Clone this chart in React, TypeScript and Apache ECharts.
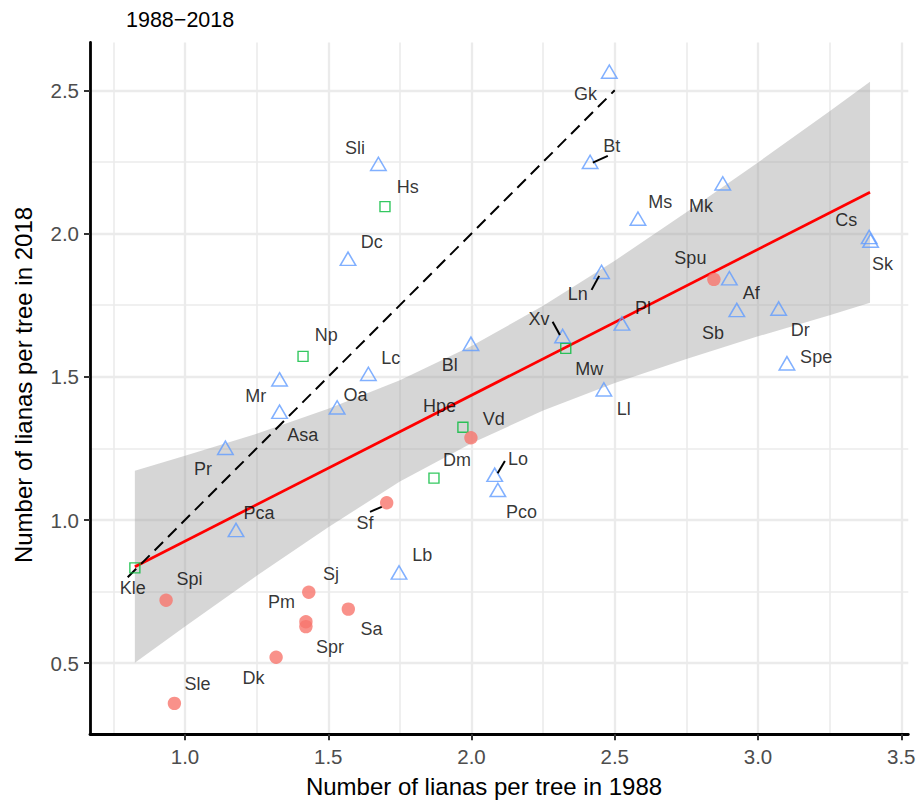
import React, { useEffect, useRef } from "react";
import * as echarts from "echarts";

// ---------------- data ----------------
const species = [
  "Dc", "Gk", "Sli", "Bt", "Ms", "Ln", "Mk", "Cs", "Sk", "Af", "Sb", "Dr", "Spe", "Pl", "Xv", "Ll", "Bl", "Lc", "Lo", "Pco", "Mr", "Asa", "Oa", "Pr", "Pca", "Lb",
  "Hs", "Mw", "Hpe", "Dm", "Np", "Kle",
  "Spu", "Vd", "Sf", "Spi", "Sj", "Pm", "Spr", "Sa", "Dk", "Sle",
];
const lianas1988 = [
  1.569, 2.481, 1.675, 2.414, 2.581, 2.454, 2.877, 3.388, 3.393, 2.9, 2.926, 3.072, 3.101, 2.525, 2.318, 2.462, 1.998, 1.64, 2.081, 2.092, 1.33, 1.33, 1.531, 1.141, 1.178, 1.747,
  1.698, 2.329, 1.97, 1.869, 1.412, 0.825,
  2.846, 1.998, 1.704, 0.934, 1.432, 1.422, 1.422, 1.57, 1.318, 0.963,
];
const lianas2018 = [
  1.912, 2.565, 2.243, 2.25, 2.052, 1.866, 2.175, 1.988, 1.975, 1.844, 1.733, 1.738, 1.547, 1.686, 1.642, 1.456, 1.615, 1.51, 1.158, 1.105, 1.491, 1.378, 1.393, 1.252, 0.965, 0.817,
  2.094, 1.599, 1.324, 1.146, 1.571, 0.833,
  1.84, 1.287, 1.06, 0.72, 0.748, 0.645, 0.628, 0.689, 0.521, 0.36,
];
const shapeGroup = [
  "triangle", "triangle", "triangle", "triangle", "triangle", "triangle", "triangle", "triangle", "triangle", "triangle", "triangle", "triangle", "triangle",
  "triangle", "triangle", "triangle", "triangle", "triangle", "triangle", "triangle", "triangle", "triangle", "triangle", "triangle", "triangle", "triangle",
  "square", "square", "square", "square", "square", "square",
  "circle", "circle", "circle", "circle", "circle", "circle", "circle", "circle", "circle", "circle",
];

// fitted regression line and its confidence band
const fitX = [0.825, 3.391];
const fitY = [0.837, 2.144];
const bandX = [0.825, 1.0, 1.25, 1.5, 1.75, 2.0, 2.25, 2.5, 2.75, 3.0, 3.25, 3.391];
const bandUpper = [1.172, 1.224, 1.301, 1.388, 1.488, 1.607, 1.748, 1.905, 2.074, 2.248, 2.427, 2.53];
const bandLower = [0.502, 0.628, 0.805, 0.975, 1.134, 1.268, 1.382, 1.478, 1.562, 1.641, 1.715, 1.758];

// 1:1 reference line
const oneToOneX = [0.8, 2.5];
const oneToOneY = [0.8, 2.5];

// axis ticks
const xMajorTicks = [1.0, 1.5, 2.0, 2.5, 3.0, 3.5];
const xMinorTicks = [0.75, 1.25, 1.75, 2.25, 2.75, 3.25];
const yMajorTicks = [0.5, 1.0, 1.5, 2.0, 2.5];
const yMinorTicks = [0.75, 1.25, 1.75, 2.25];

const titleText = "1988\u22122018";
const xTitle = "Number of lianas per tree in 1988";
const yTitle = "Number of lianas per tree in 2018";

// ---------------- layout (pixel offsets of labels, leader lines) ----------------
const labelOffsets: Record<string, [number, number]> = {
  Sli: [-23.3, -15.7], Hs: [22.8, -19.5], Dc: [23.7, -16.7], Np: [23.3, -21], Lc: [22.5, -15.7],
  Mr: [-23.9, 16.3], Oa: [18.3, -12.5], Asa: [23.3, 23.2], Pr: [-22.5, 21.5], Pca: [23, -17],
  Kle: [-2.2, 20.2], Spi: [23.5, -21], Sle: [23.2, -19.1], Dk: [-22.7, 21], Pm: [-24.3, -19.5],
  Spr: [24, 20], Sj: [22.3, -18.5], Sa: [23.2, 20.2], Sf: [-21.7, 19.8], Lb: [23.3, -17],
  Dm: [23, -18.6], Lo: [23.2, -16], Pco: [23.7, 22.2], Hpe: [-23.3, -21], Vd: [22.8, -19],
  Bl: [-21.3, 21.2], Xv: [-23.5, -17.3], Mw: [23.5, 20.5], Ll: [19.8, 19.5], Ln: [-23.9, 22.5],
  Pl: [21.2, -15], Gk: [-23.8, 22.8], Bt: [21.7, -15.7], Ms: [22.3, -16.5], Mk: [-21.7, 23],
  Spu: [-23.5, -21], Af: [22, 14.7], Sb: [-23.7, 23], Dr: [21.7, 21.6], Spe: [29.2, -6.5],
  Cs: [-22.8, -16.7], Sk: [12, 23.3],
};
const leaderOffsets: Record<string, [number, number, number, number]> = {
  Bt: [2.7, 0.7, 17.7, -6],
  Ln: [-2.4, 4, -10, 18],
  Xv: [-2.7, -1, -10, -14.3],
  Lo: [2.9, -1.4, 10.2, -13.7],
  Sf: [-5, 4, -16.7, 9],
};

const X_MIN = 0.6684;
const X_MAX = 3.5246;
const Y_MIN = 0.252;
const Y_MAX = 2.6667;
const FONT = '"Liberation Sans", Arial, Helvetica, sans-serif';

const shapeStyles: Record<string, any> = {
  triangle: {
    symbol: "triangle",
    symbolSize: [15.5, 13.3],
    itemStyle: { color: "rgba(0,0,0,0)", borderColor: "#619CFF", borderWidth: 1.5 },
  },
  square: {
    symbol: "rect",
    symbolSize: 10,
    itemStyle: { color: "rgba(0,0,0,0)", borderColor: "#00BA38", borderWidth: 1.4 },
  },
  circle: {
    symbol: "circle",
    symbolSize: 13.4,
    itemStyle: { color: "#F8766D", borderWidth: 0 },
  },
};

export default function App() {
  const ref = useRef<HTMLDivElement>(null);

  useEffect(() => {
    document.body.style.margin = "0";
    document.body.style.overflow = "hidden";
    const chart = echarts.init(ref.current as HTMLDivElement, undefined, { renderer: "svg" });

    const scatterSeries = ["triangle", "square", "circle"].map((g) => {
      const data: any[] = [];
      species.forEach((name, i) => {
        if (shapeGroup[i] !== g) return;
        data.push({
          name,
          value: [lianas1988[i], lianas2018[i]],
          label: { offset: labelOffsets[name] || [0, 0] },
        });
      });
      return {
        type: "scatter",
        name: g,
        xAxisIndex: 0,
        yAxisIndex: 0,
        symbol: shapeStyles[g].symbol,
        symbolSize: shapeStyles[g].symbolSize,
        itemStyle: shapeStyles[g].itemStyle,
        silent: true,
        z: 5,
        label: {
          show: true,
          position: "inside",
          formatter: (p: any) => p.name,
          color: "#000000",
          fontSize: 18,
          fontFamily: FONT,
          align: "center",
          verticalAlign: "middle",
          textBorderWidth: 0,
        },
        emphasis: { disabled: true },
        data,
      };
    });

    const leaderData = Object.keys(leaderOffsets).map((n) => {
      const i = species.indexOf(n);
      const o = leaderOffsets[n];
      return [lianas1988[i], lianas2018[i], o[0], o[1], o[2], o[3]];
    });

    const option: any = {
      animation: false,
      textStyle: { fontFamily: FONT },
      grid: {
        left: 90,
        right: 10.7,
        top: 42.5,
        bottom: 66.7,
        containLabel: false,
        outerBoundsMode: "none",
      },
      xAxis: [
        {
          type: "value",
          min: X_MIN,
          max: X_MAX,
          position: "bottom",
          axisLine: { show: true, onZero: false, lineStyle: { color: "#000", width: 2.8 } },
          axisTick: { show: true, customValues: xMajorTicks, length: 6, lineStyle: { color: "#333", width: 2 } },
          axisLabel: {
            show: true,
            customValues: xMajorTicks,
            formatter: (v: number) => v.toFixed(1),
            color: "#4D4D4D",
            fontSize: 20.5,
            margin: 12,
            fontFamily: FONT,
          },
          splitLine: { show: true, lineStyle: { color: "#EBEBEB", width: 2.3 } },
          minorTick: { show: false },
          minorSplitLine: { show: false },
        },
        {
          type: "value",
          min: X_MIN,
          max: X_MAX,
          position: "top",
          axisLine: { show: false },
          axisTick: { show: false, customValues: xMinorTicks },
          axisLabel: { show: false, customValues: xMinorTicks },
          splitLine: { show: true, lineStyle: { color: "#EBEBEB", width: 1.6 } },
        },
      ],
      yAxis: [
        {
          type: "value",
          min: Y_MIN,
          max: Y_MAX,
          position: "left",
          axisLine: { show: true, onZero: false, lineStyle: { color: "#000", width: 2.8 } },
          axisTick: { show: true, customValues: yMajorTicks, length: 6, lineStyle: { color: "#333", width: 2 } },
          axisLabel: {
            show: true,
            customValues: yMajorTicks,
            formatter: (v: number) => v.toFixed(1),
            color: "#4D4D4D",
            fontSize: 20.5,
            margin: 11,
            fontFamily: FONT,
          },
          splitLine: { show: true, lineStyle: { color: "#EBEBEB", width: 2.3 } },
          minorTick: { show: false },
          minorSplitLine: { show: false },
        },
        {
          type: "value",
          min: Y_MIN,
          max: Y_MAX,
          position: "right",
          axisLine: { show: false },
          axisTick: { show: false, customValues: yMinorTicks },
          axisLabel: { show: false, customValues: yMinorTicks },
          splitLine: { show: true, lineStyle: { color: "#EBEBEB", width: 1.6 } },
        },
      ],
      series: [
        {
          type: "custom",
          name: "band",
          xAxisIndex: 0,
          yAxisIndex: 0,
          silent: true,
          z: 2,
          data: [[bandX[0], bandLower[0]]],
          renderItem: (_params: any, api: any) => {
            const pts: number[][] = [];
            for (let i = 0; i < bandX.length; i++) pts.push(api.coord([bandX[i], bandUpper[i]]));
            for (let i = bandX.length - 1; i >= 0; i--) pts.push(api.coord([bandX[i], bandLower[i]]));
            return { type: "polygon", shape: { points: pts }, style: { fill: "rgba(153,153,153,0.4)" } };
          },
        },
        {
          type: "line",
          name: "fit",
          xAxisIndex: 0,
          yAxisIndex: 0,
          silent: true,
          z: 3,
          symbol: "none",
          lineStyle: { color: "#FF0000", width: 2.7 },
          data: fitX.map((x, i) => [x, fitY[i]]),
        },
        {
          type: "line",
          name: "1:1",
          xAxisIndex: 0,
          yAxisIndex: 0,
          silent: true,
          z: 3,
          symbol: "none",
          lineStyle: { color: "#000000", width: 2, type: [12, 7] },
          data: oneToOneX.map((x, i) => [x, oneToOneY[i]]),
        },
        ...scatterSeries,
        {
          type: "custom",
          name: "leaders",
          xAxisIndex: 0,
          yAxisIndex: 0,
          silent: true,
          z: 6,
          dimensions: ["x", "y", "dx1", "dy1", "dx2", "dy2"],
          encode: { x: 0, y: 1 },
          data: leaderData,
          renderItem: (_params: any, api: any) => {
            const p = api.coord([api.value(0), api.value(1)]);
            return {
              type: "line",
              shape: {
                x1: p[0] + api.value(2),
                y1: p[1] + api.value(3),
                x2: p[0] + api.value(4),
                y2: p[1] + api.value(5),
              },
              style: { stroke: "#000000", lineWidth: 2 },
            };
          },
        },
      ],
      graphic: [
        {
          type: "text",
          x: 126,
          y: 19.5,
          style: {
            text: titleText,
            fill: "#000000",
            fontSize: 21.5,
            fontFamily: FONT,
            align: "left",
            verticalAlign: "middle",
            textAlign: "left",
            textVerticalAlign: "middle",
          },
        },
        {
          type: "text",
          x: 484,
          y: 786,
          style: {
            text: xTitle,
            fill: "#000000",
            fontSize: 24,
            fontFamily: FONT,
            align: "center",
            verticalAlign: "middle",
            textAlign: "center",
            textVerticalAlign: "middle",
          },
        },
        {
          type: "text",
          x: 23.5,
          y: 385,
          rotation: Math.PI / 2,
          style: {
            text: yTitle,
            fill: "#000000",
            fontSize: 24,
            fontFamily: FONT,
            align: "center",
            verticalAlign: "middle",
            textAlign: "center",
            textVerticalAlign: "middle",
          },
        },
      ],
    };

    chart.setOption(option);
    return () => chart.dispose();
  }, []);

  return <div ref={ref} style={{ width: 919, height: 801 }} />;
}
